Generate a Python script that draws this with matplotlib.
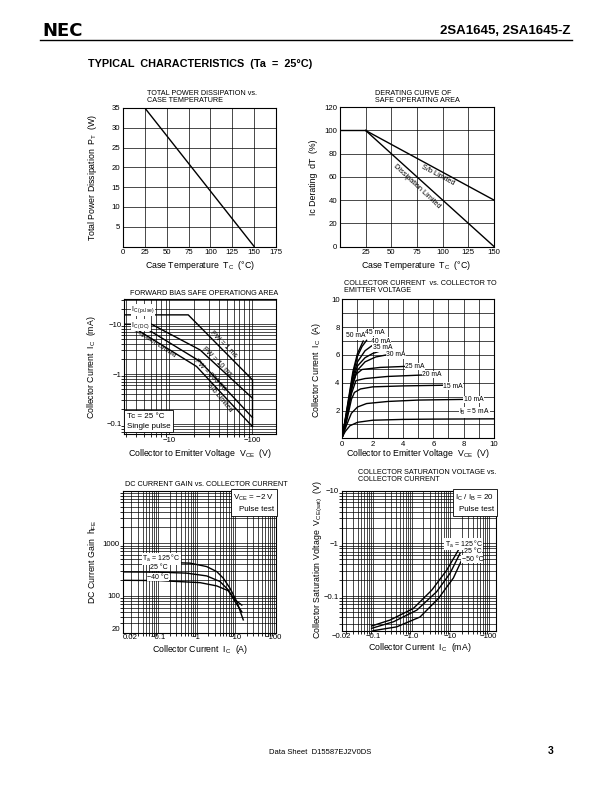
import numpy as np
import matplotlib.pyplot as plt
from matplotlib.ticker import LogLocator, NullFormatter

plt.rcParams['font.family'] = ['Liberation Sans', 'DejaVu Sans']
plt.rcParams['mathtext.fontset'] = 'custom'
plt.rcParams['mathtext.rm'] = 'Liberation Sans'
plt.rcParams['mathtext.it'] = 'Liberation Sans:italic'
plt.rcParams['mathtext.bf'] = 'Liberation Sans:bold'

# ---- data ----
# total power dissipation vs case temperature
pt_tc = [0, 25, 150]
pt_w = [35, 35, 0]

# derating curve of SOA
der_tc = [0, 25]
der_pct = [100, 100]
sb_tc = [25, 150]
sb_pct = [100, 40]
dis_tc = [25, 150]
dis_pct = [100, 0]

# forward bias SOA (magnitudes: |VCE| V, |IC|)
soa_1ms_v = [2.5, 16.9, 40, 100]
soa_1ms_i = [15.4, 15.4, 3.6, 0.77]
soa_10ms_v = [2.5, 6.1, 23.4, 100]
soa_10ms_i = [10.0, 10.0, 3.06, 0.33]
soa_200ms_v = [5.4, 23.4, 100]
soa_200ms_i = [8.0, 1.8, 0.135]
soa_dc_v = [4.4, 21.3, 100]
soa_dc_i = [7.2, 1.42, 0.089]
soa_edge_v = [100, 100]
soa_edge_i = [0.089, 0.77]

# collector current vs collector to emitter voltage
ib_labels = ['50 mA', '45 mA', '40 mA', '35 mA', '30 mA', '25 mA', '20 mA', '15 mA', '10 mA', '$\\mathregular{I_B}$ = 5 mA']
ic_vce = [
    [0, 0.3, 0.7, 1.0, 1.38],
    [0, 0.3, 0.7, 1.0, 1.3, 1.6],
    [0, 0.3, 0.7, 1.0, 1.5, 2.0],
    [0, 0.3, 0.7, 1.0, 1.5, 2.0, 2.5],
    [0, 0.3, 0.7, 1.0, 1.5, 2.2, 3.1],
    [0, 0.3, 0.6, 0.9, 1.3, 2.5, 4.1],
    [0, 0.3, 0.6, 0.9, 1.5, 3.0, 5.45],
    [0, 0.3, 0.6, 0.8, 1.2, 2.0, 4.0, 6.8],
    [0, 0.3, 0.6, 1.0, 1.6, 3.0, 5.0, 8.1],
    [0, 0.2, 0.5, 1.0, 2.0, 4.0, 6.0, 10.0],
]
ic_amp = [
    [0.1, 2.1, 4.8, 6.1, 7.0],
    [0.1, 2.0, 4.6, 5.9, 6.6, 7.05],
    [0.1, 1.9, 4.4, 5.5, 6.3, 6.7],
    [0.1, 1.8, 4.2, 5.2, 5.8, 6.1, 6.28],
    [0.1, 1.7, 4.0, 4.9, 5.5, 5.85, 6.04],
    [0.1, 1.6, 3.5, 4.6, 4.95, 5.1, 5.17],
    [0.1, 1.5, 3.2, 4.15, 4.3, 4.45, 4.56],
    [0.1, 1.3, 2.8, 3.3, 3.55, 3.7, 3.77, 3.82],
    [0.1, 1.0, 1.8, 2.25, 2.5, 2.65, 2.75, 2.8],
    [0.1, 0.5, 0.9, 1.15, 1.3, 1.36, 1.38, 1.4],
]
ib_label_xy = [(0.9, 7.36), (2.15, 7.62), (2.55, 7.0), (2.65, 6.5), (3.55, 6.0),
               (4.8, 5.15), (5.9, 4.6), (7.3, 3.76), (8.65, 2.8), (8.7, 1.87)]

# DC current gain vs collector current (|IC| A)
hfe_125_ic = [0.2, 0.68, 1.84, 3.35, 4.97, 7.4, 11.1, 16.4]
hfe_125 = [431, 420, 361, 290, 217, 140, 78, 35]
hfe_25_ic = [0.0121, 0.1, 0.556, 1.84, 4.06, 6.7, 10, 15]
hfe_25 = [286, 283, 271, 240, 188, 130, 78, 50]
hfe_m40_ic = [0.0121, 0.1, 1.23, 3.35, 6.6, 10, 15]
hfe_m40 = [198, 196, 179, 155, 126, 84, 67]

# collector saturation voltage vs collector current (|IC| mA, |VCE(sat)| V)
vs_125_ic = [0.092, 0.276, 1.11, 3.37, 8.2, 16.5]
vs_125 = [0.027, 0.035, 0.058, 0.13, 0.31, 0.75]
vs_25_ic = [0.092, 0.34, 1.37, 4.5, 10, 18.2]
vs_25 = [0.0244, 0.0325, 0.054, 0.121, 0.27, 0.65]
vs_m50_ic = [0.1, 0.41, 1.66, 5.0, 12.2, 20]
vs_m50 = [0.022, 0.026, 0.04, 0.09, 0.22, 0.48]

W, H = 612, 792
fig = plt.figure(figsize=(W / 100, H / 100), dpi=100)

LW = 1.0
GRID = dict(color='black', lw=0.5)
TFS = 5.2   # title size
LFS = 6.3   # axis label size
KFS = 5.6   # tick label size
NARROW = ['Liberation Sans Narrow', 'Liberation Sans', 'DejaVu Sans']
WHITE = dict(facecolor='white', edgecolor='none', pad=0.2)


def box(l, t, r, b):
    ax = fig.add_axes([l / W, 1 - b / H, (r - l) / W, (b - t) / H])
    ax.tick_params(length=0, labelsize=KFS, pad=2)
    for s in ax.spines.values():
        s.set_linewidth(0.8)
    return ax


def ftext(x, y, s, **kw):
    fig.text(x / W, 1 - y / H, s, **kw)


def loggrid(ax, axis):
    a = ax.xaxis if axis == 'x' else ax.yaxis
    a.set_minor_locator(LogLocator(base=10, subs=np.arange(2, 10), numticks=30))
    a.set_minor_formatter(NullFormatter())


# ---- header / footer ----
ftext(42, 31, 'NEC', fontsize=13, fontweight='bold', va='center', family=['DejaVu Sans'])
ftext(571, 31, '2SA1645, 2SA1645-Z', fontsize=9.5, fontweight='bold', va='center', ha='right')
fig.add_artist(plt.Line2D([40 / W, 572 / W], [1 - 40 / H, 1 - 40 / H], color='black', lw=1.0))
ftext(88, 64, 'TYPICAL  CHARACTERISTICS  (Ta  =  25°C)', fontsize=7.8, fontweight='bold', va='center')
ftext(320, 752, 'Data Sheet  D15587EJ2V0DS', fontsize=5.5, va='center', ha='center')
ftext(548, 751, '3', fontsize=7.5, fontweight='bold', va='center')

# ---- 1: total power dissipation ----
ax = box(123, 108, 276, 246.5)
ax.plot(pt_tc, pt_w, color='black', lw=LW)
ax.set_xlim(0, 175)
ax.set_ylim(0, 35)
ax.set_xticks(np.arange(0, 176, 25))
ax.set_yticks(np.arange(5, 36, 5))
ax.grid(**GRID)
ftext(147, 97, 'TOTAL POWER DISSIPATION vs.\nCASE TEMPERATURE', fontsize=TFS, va='center', family=NARROW, linespacing=1.1)
ftext(200, 265, 'Case Temperature  $\\mathregular{T_C}$  (°C)', fontsize=LFS, ha='center', va='center')
ftext(93, 177, 'Total Power Dissipation  $\\mathregular{P_T}$  (W)', fontsize=LFS, ha='center', va='center', rotation=90)

# ---- 2: derating curve ----
ax = box(340, 107.3, 494, 246.5)
ax.plot(der_tc, der_pct, color='black', lw=LW)
ax.plot(sb_tc, sb_pct, color='black', lw=LW)
ax.plot(dis_tc, dis_pct, color='black', lw=LW)
ax.set_xlim(0, 150)
ax.set_ylim(0, 120)
ax.set_xticks(np.arange(0, 151, 25), [''] + [str(v) for v in range(25, 151, 25)])
ax.set_yticks(np.arange(0, 121, 20))
ax.grid(**GRID)
ax.text(95, 61, 'S/b Limited', fontsize=5.3, rotation=-28, ha='center', va='center', family=NARROW)
ax.text(75, 52, 'Dissipation Limited', fontsize=5.3, rotation=-43, ha='center', va='center', family=NARROW)
ftext(375, 97, 'DERATING CURVE OF\nSAFE OPERATING AREA', fontsize=TFS, va='center', family=NARROW, linespacing=1.1)
ftext(416, 265, 'Case Temperature  $\\mathregular{T_C}$  (°C)', fontsize=LFS, ha='center', va='center')
ftext(313, 177, 'Ic Derating  dT  (%)', fontsize=LFS, ha='center', va='center', rotation=90)

# ---- 3: forward bias SOA ----
ax = box(124.3, 299.3, 275.7, 434.3)
for v, i in [(soa_1ms_v, soa_1ms_i), (soa_10ms_v, soa_10ms_i), (soa_200ms_v, soa_200ms_i),
             (soa_dc_v, soa_dc_i), (soa_edge_v, soa_edge_i)]:
    ax.plot(v, i, color='black', lw=LW)
ax.set_xscale('log')
ax.set_yscale('log')
ax.set_xlim(2.87, 191)
ax.set_ylim(0.062, 31.6)
ax.set_xticks([10, 100], ['\u221210', '\u2212100'])
ax.set_yticks([0.1, 1, 10], ['\u22120.1', '\u22121', '\u221210'])
loggrid(ax, 'x')
loggrid(ax, 'y')
ax.grid(which='both', **GRID)
ax.text(44.6, 3.9, 'PW = 1 ms', fontsize=5, rotation=-45, ha='center', va='center', family=NARROW)
ax.text(37.2, 1.8, 'PW = 10 ms', fontsize=5, rotation=-45, ha='center', va='center', family=NARROW)
ax.text(30.9, 0.97, 'PW = 200 ms', fontsize=5, rotation=-45, ha='center', va='center', family=NARROW)
ax.text(40.8, 0.33, 'S/b Limited', fontsize=5, rotation=-50, ha='center', va='center', family=NARROW)
ax.text(6.4, 4.5, 'Dissipation Limited', fontsize=4.6, rotation=-33, ha='center', va='center', family=NARROW)
ax.text(3.5, 19.3, '$\\mathregular{I_{C\\ (pulse)}}$', fontsize=5, va='center', family=NARROW, bbox=WHITE)
ax.text(3.5, 9.6, '$\\mathregular{I_{C\\ (DC)}}$', fontsize=5, va='center', family=NARROW, bbox=WHITE)
ax.text(0.015, 0.035, 'Tc = 25 °C\nSingle pulse', transform=ax.transAxes, fontsize=5.8,
        va='bottom', ha='left', linespacing=1.6,
        bbox=dict(facecolor='white', edgecolor='black', lw=0.6, pad=2))
ftext(130, 293, 'FORWARD BIAS SAFE OPERATIONG AREA', fontsize=TFS, va='center', family=NARROW)
ftext(200, 454, 'Collector to Emitter Voltage  $\\mathregular{V_{CE}}$  (V)', fontsize=LFS, ha='center', va='center')
ftext(92, 367, 'Collector Current  $\\mathregular{I_C}$  (mA)', fontsize=LFS, ha='center', va='center', rotation=90)

# ---- 4: IC vs VCE ----
ax = box(342.3, 299.3, 494, 438.3)
for v, i in zip(ic_vce, ic_amp):
    ax.plot(v, i, color='black', lw=LW)
for lab, (x, y) in zip(ib_labels, ib_label_xy):
    ax.text(x, y, lab, fontsize=4.9, ha='center', va='center', bbox=WHITE)
ax.set_xlim(0, 10)
ax.set_ylim(0, 10)
ax.set_xticks(np.arange(0, 11, 2))
ax.set_yticks(np.arange(0, 11, 2), [''] + [str(v) for v in range(2, 11, 2)])
ax.set_xticks(np.arange(0, 11, 1), minor=True)
ax.set_yticks(np.arange(0, 11, 1), minor=True)
ax.tick_params(which='minor', length=0)
ax.grid(which='both', **GRID)
ftext(344, 287, 'COLLECTOR CURRENT  vs. COLLECTOR TO\nEMITTER VOLTAGE', fontsize=TFS, va='center', family=NARROW, linespacing=1.1)
ftext(418, 454, 'Collector to Emitter Voltage  $\\mathregular{V_{CE}}$  (V)', fontsize=LFS, ha='center', va='center')
ftext(316, 370, 'Collector Current  $\\mathregular{I_C}$  (A)', fontsize=LFS, ha='center', va='center', rotation=90)

# ---- 5: hFE vs IC ----
ax = box(122.7, 490.7, 276, 632.7)
ax.plot(hfe_125_ic, hfe_125, color='black', lw=LW)
ax.plot(hfe_25_ic, hfe_25, color='black', lw=LW)
ax.plot(hfe_m40_ic, hfe_m40, color='black', lw=LW)
ax.set_xscale('log')
ax.set_yscale('log')
ax.set_xlim(0.0121, 116)
ax.set_ylim(20, 10000)
ax.set_xticks([0.0121, 0.1, 1, 10, 100], ['0.02', '\u22120.1', '\u22121', '\u221210', '\u2212100'])
ax.set_yticks([20, 100, 1000], ['20', '100', '1000'])
ax.tick_params(axis='x', pad=1)
ax.get_xticklabels()[0].set_ha('left')
ax.get_yticklabels()[0].set_va('bottom')
loggrid(ax, 'x')
loggrid(ax, 'y')
ax.grid(which='both', **GRID)
ax.text(0.12, 506, '$\\mathregular{T_a}$ = 125 °C', fontsize=5, ha='center', va='center', bbox=WHITE)
ax.text(0.106, 352, '25 °C', fontsize=5, ha='center', va='center', bbox=WHITE)
ax.text(0.1, 227, '\u221240 °C', fontsize=5, ha='center', va='center', bbox=WHITE)
ax.text(0.99, 0.985, '$\\mathregular{V_{CE}}$ = \u22122 V\nPulse test', transform=ax.transAxes,
        fontsize=5.8, ha='right', va='top', linespacing=1.6,
        bbox=dict(facecolor='white', edgecolor='black', lw=0.6, pad=2))
ftext(125, 484, 'DC CURRENT GAIN vs. COLLECTOR CURRENT', fontsize=TFS, va='center', family=NARROW)
ftext(200, 649, 'Collector Current  $\\mathregular{I_C}$  (A)', fontsize=LFS, ha='center', va='center')
ftext(93, 562, 'DC Current Gain  $\\mathregular{h_{FE}}$', fontsize=LFS, ha='center', va='center', rotation=90)

# ---- 6: VCE(sat) vs IC ----
ax = box(341.7, 490.7, 496, 630.7)
ax.plot(vs_125_ic, vs_125, color='black', lw=LW)
ax.plot(vs_25_ic, vs_25, color='black', lw=LW)
ax.plot(vs_m50_ic, vs_m50, color='black', lw=LW)
ax.set_xscale('log')
ax.set_yscale('log')
ax.set_xlim(0.0154, 156)
ax.set_ylim(0.022, 10)
ax.set_xticks([0.0154, 0.1, 1, 10, 100], ['\u22120.02', '\u22120.1', '\u22121.0', '\u221210', '\u2212100'])
ax.set_yticks([0.1, 1, 10], ['\u22120.1', '\u22121', '\u221210'])
loggrid(ax, 'x')
loggrid(ax, 'y')
ax.grid(which='both', **GRID)
ax.text(23, 0.97, '$\\mathregular{T_a}$ = 125 °C', fontsize=5, ha='center', va='center', bbox=WHITE)
ax.text(40, 0.69, '25 °C', fontsize=5, ha='center', va='center', bbox=WHITE)
ax.text(38, 0.5, '\u221250 °C', fontsize=5, ha='center', va='center', bbox=WHITE)
ax.text(0.99, 0.985, '$\\mathregular{I_C}$ / $\\mathregular{I_B}$ = 20\nPulse test', transform=ax.transAxes,
        fontsize=5.8, ha='right', va='top', linespacing=1.6,
        bbox=dict(facecolor='white', edgecolor='black', lw=0.6, pad=2))
ftext(358, 476, 'COLLECTOR SATURATION VOLTAGE vs.\nCOLLECTOR CURRENT', fontsize=TFS, va='center', family=NARROW, linespacing=1.1)
ftext(420, 647, 'Collector Current  $\\mathregular{I_C}$  (mA)', fontsize=LFS, ha='center', va='center')
ftext(318, 560, 'Collector Saturation Voltage  $\\mathregular{V_{CE(sat)}}$  (V)', fontsize=LFS, ha='center', va='center', rotation=90)

fig.savefig('out.png', dpi=100)
